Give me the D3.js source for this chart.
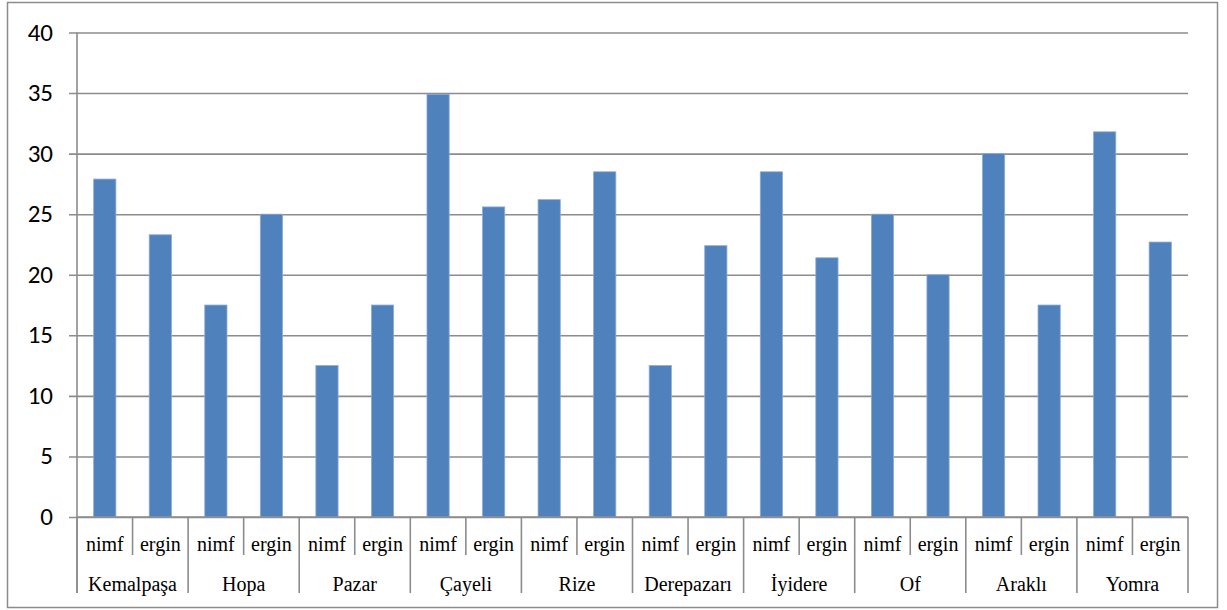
<!DOCTYPE html>
<html>
<head>
<meta charset="utf-8">
<script src="https://cdn.jsdelivr.net/npm/d3@7/dist/d3.min.js"></script>
<style>
  html, body { margin: 0; padding: 0; background: #fff; }
  svg { display: block; }
</style>
</head>
<body>
<svg id="chart" width="1227" height="610"></svg>
<script>
// Sampling locations (outer axis level) and life stages (inner level)
const regions = ["Kemalpaşa", "Hopa", "Pazar", "Çayeli", "Rize", "Derepazarı", "İyidere", "Of", "Araklı", "Yomra"];
const stages = ["nimf", "ergin"];
const nimfValues  = [27.9, 17.5, 12.5, 34.9, 26.2, 12.5, 28.5, 25, 30, 31.8];
const erginValues = [23.3, 25, 17.5, 25.6, 28.5, 22.4, 21.4, 20, 17.5, 22.7];
const yTicks = [0, 5, 10, 15, 20, 25, 30, 35, 40];

// Flatten into one bar per (region, stage)
const bars = [];
regions.forEach((r, i) => {
  bars.push({ key: r + "|nimf", region: r, stage: stages[0], value: nimfValues[i] });
  bars.push({ key: r + "|ergin", region: r, stage: stages[1], value: erginValues[i] });
});

const svg = d3.select("#chart");
const plot = { left: 77, right: 1188, top: 32.5, bottom: 517 };

// Outer frame
svg.append("rect")
  .attr("x", 7.5).attr("y", 2.5)
  .attr("width", 1210).attr("height", 605)
  .attr("fill", "#fff").attr("stroke", "#8c8c8c").attr("stroke-width", 1.5);

const x = d3.scaleBand()
  .domain(bars.map(d => d.key))
  .range([plot.left, plot.right])
  .paddingInner(0.6).paddingOuter(0.3);

const y = d3.scaleLinear().domain([0, 40]).range([plot.bottom, plot.top]);

// Horizontal gridlines with small ticks on the left
const yAxis = d3.axisLeft(y)
  .tickValues(yTicks)
  .tickSize(-(plot.right - plot.left))
  .tickSizeOuter(0)
  .tickPadding(24);

const gy = svg.append("g")
  .attr("transform", `translate(${plot.left},0)`)
  .call(yAxis);
gy.select(".domain").remove();
gy.selectAll(".tick line")
  .attr("x1", -8)
  .attr("stroke", "#8c8c8c").attr("stroke-width", 1.6);
gy.selectAll(".tick text")
  .attr("font-family", "Carlito, Lato, 'Open Sans', sans-serif")
  .attr("font-size", 25)
  .attr("fill", "#000")
  .attr("dy", "0.3em");

// Vertical axis line
svg.append("line")
  .attr("x1", plot.left).attr("x2", plot.left)
  .attr("y1", plot.top).attr("y2", 593)
  .attr("stroke", "#8c8c8c").attr("stroke-width", 1.6);

// Bars
svg.append("g").selectAll("rect")
  .data(bars)
  .join("rect")
  .attr("x", d => x(d.key))
  .attr("width", x.bandwidth())
  .attr("y", d => y(d.value))
  .attr("height", d => y(0) - y(d.value))
  .attr("fill", "#4f81bd")
  .attr("stroke", "#8eabd3")
  .attr("stroke-width", 0.8);

// Baseline
svg.append("line")
  .attr("x1", plot.left).attr("x2", plot.right)
  .attr("y1", plot.bottom).attr("y2", plot.bottom)
  .attr("stroke", "#8c8c8c").attr("stroke-width", 1.6);

// Two-level category axis
const step = x.step();
const catStart = i => plot.left + i * step;   // left edge of the i-th bar slot
const gx = svg.append("g");

// Separators: short between stages, long between regions
bars.forEach((d, i) => {
  const long = i % 2 === 0;
  gx.append("line")
    .attr("x1", catStart(i)).attr("x2", catStart(i))
    .attr("y1", plot.bottom).attr("y2", long ? 593 : 555)
    .attr("stroke", "#8c8c8c").attr("stroke-width", 1.6);
});
gx.append("line")
  .attr("x1", plot.right).attr("x2", plot.right)
  .attr("y1", plot.bottom).attr("y2", 593)
  .attr("stroke", "#8c8c8c").attr("stroke-width", 1.6);

const serif = "Liberation Serif";

gx.selectAll("text.stage")
  .data(bars)
  .join("text")
  .attr("class", "stage")
  .attr("x", d => x(d.key) + x.bandwidth() / 2)
  .attr("y", 551)
  .attr("text-anchor", "middle")
  .style("font-family", serif)
  .style("font-size", "20px")
  .attr("fill", "#000")
  .text(d => d.stage);

gx.selectAll("text.region")
  .data(regions)
  .join("text")
  .attr("class", "region")
  .attr("x", (d, i) => catStart(2 * i) + step)
  .attr("y", 591)
  .attr("text-anchor", "middle")
  .style("font-family", serif)
  .style("font-size", "20px")
  .attr("fill", "#000")
  .text(d => d);
</script>
</body>
</html>
